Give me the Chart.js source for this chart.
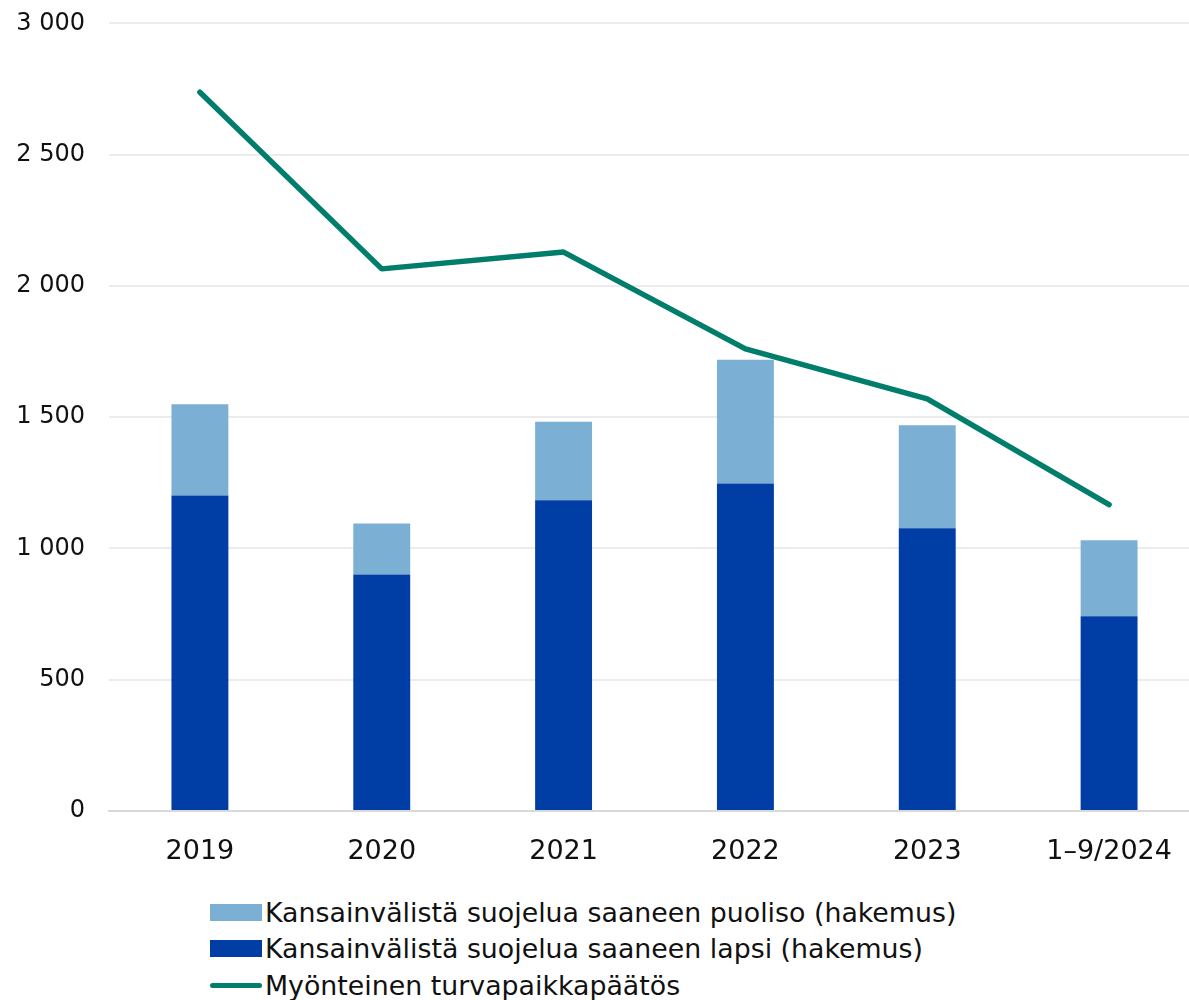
<!DOCTYPE html>
<html>
<head>
<meta charset="utf-8">
<script src="https://cdn.jsdelivr.net/npm/chart.js@4/dist/chart.umd.min.js"></script>
<style>
  html, body { margin: 0; padding: 0; background: #fff; overflow: hidden; }
  #wrap { position: relative; width: 1200px; height: 1000px; }
  #c { position: absolute; left: 0; top: -15px; }
  #legend { position: absolute; left: 210px; top: 894px; font-family: "DejaVu Sans", sans-serif; font-size: 26.8px; color: #111; }
  .item { display: flex; align-items: center; height: 36.5px; white-space: nowrap; }
  .box { width: 52px; height: 17px; margin-right: 3px; }
  .ln { width: 52px; height: 5px; border-radius: 3px; margin-right: 3px; }
</style>
</head>
<body>
<div id="wrap">
  <canvas id="c" width="1200" height="895"></canvas>
  <div id="legend"></div>
</div>
<script>
const categories = ["2019", "2020", "2021", "2022", "2023", "1–9/2024"];
const lapsi = [1202, 901, 1184, 1247, 1077, 742];
const puoliso = [347, 194, 299, 472, 392, 289];
const myonteinen = [2738, 2065, 2129, 1760, 1570, 1167];
const yTicks = [0, 500, 1000, 1500, 2000, 2500, 3000];

const labelPuoliso = "Kansainvälistä suojelua saaneen puoliso (hakemus)";
const labelLapsi = "Kansainvälistä suojelua saaneen lapsi (hakemus)";
const labelLine = "Myönteinen turvapaikkapäätös";

const cLight = "#7BAFD4";
const cDark = "#003DA5";
const cGreen = "#007E6B";
const font = "'DejaVu Sans', sans-serif";

const chart = new Chart(document.getElementById("c"), {
  type: "bar",
  data: {
    labels: categories,
    datasets: [
      { type: "bar", label: labelLapsi, data: lapsi, backgroundColor: cDark, borderWidth: 0, order: 1, stack: "s", barPercentage: 0.313, categoryPercentage: 1 },
      { type: "bar", label: labelPuoliso, data: puoliso, backgroundColor: cLight, borderWidth: 0, order: 1, stack: "s", barPercentage: 0.313, categoryPercentage: 1 },
      { type: "line", label: labelLine, data: myonteinen, borderColor: cGreen, borderWidth: 5.5, pointRadius: 0, borderCapStyle: "round", borderJoinStyle: "round", tension: 0, order: 0, fill: false }
    ]
  },
  options: {
    responsive: false,
    animation: false,
    layout: { padding: { top: 4, left: 0, right: 0, bottom: 0 } },
    plugins: { legend: { display: false }, tooltip: { enabled: false } },
    scales: {
      x: {
        stacked: true,
        grid: { display: false, drawTicks: false },
        border: { display: true, color: "#d9d9d9", width: 2 },
        ticks: { color: "#111", font: { family: font, size: 27 }, padding: 25, maxRotation: 0 },
        afterFit: s => { s.height = 69; }
      },
      y: {
        stacked: true,
        min: 0, max: 3000,
        afterBuildTicks: s => { s.ticks = yTicks.map(v => ({ value: v })); },
        grid: { color: "#ececec", lineWidth: 2, drawTicks: false },
        border: { display: false },
        ticks: { color: "#111", font: { family: font, size: 24 }, padding: 24,
          callback: v => String(v).replace(/\B(?=(\d{3})+(?!\d))/g, " ") },
        afterFit: s => { s.width = 109; }
      }
    }
  }
});

// HTML legend built from the chart's datasets
const lg = document.getElementById("legend");
const ds = chart.data.datasets;
[ds[1], ds[0], ds[2]].forEach(d => {
  const row = document.createElement("div");
  row.className = "item";
  const sw = document.createElement("div");
  if (d.type === "line") { sw.className = "ln"; sw.style.background = d.borderColor; }
  else { sw.className = "box"; sw.style.background = d.backgroundColor; }
  const t = document.createElement("span");
  t.textContent = d.label;
  row.appendChild(sw); row.appendChild(t);
  lg.appendChild(row);
});
</script>
</body>
</html>
